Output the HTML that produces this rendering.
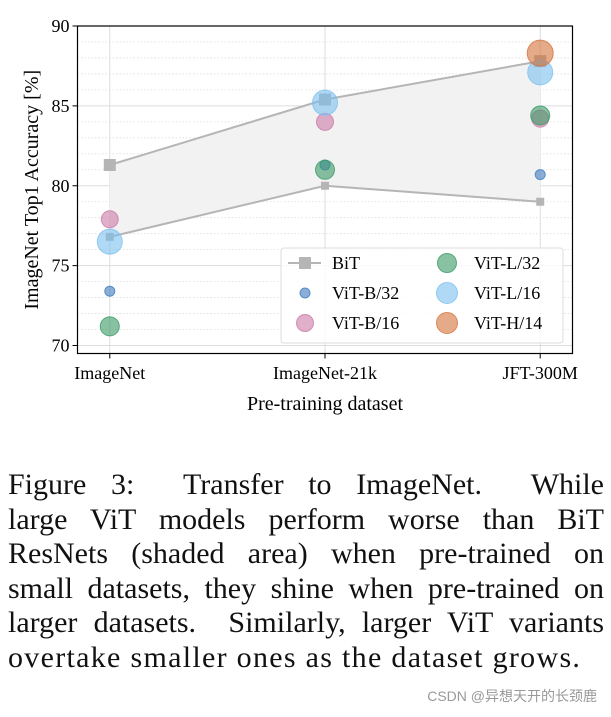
<!DOCTYPE html>
<html><head><meta charset="utf-8">
<style>
body{margin:0;background:#fff;width:611px;height:717px;overflow:hidden;position:relative;font-family:"Liberation Serif",serif}
#cap{position:absolute;left:8px;top:468px;width:596px;font-size:30px;line-height:34.6px;color:#111}
#cap div{text-align:justify;text-align-last:justify;white-space:nowrap;height:34.6px}
#cap div.last{text-align-last:left;letter-spacing:1.3px}
#wm{position:absolute;right:14px;top:686px;font-family:"Liberation Sans","Noto Sans CJK SC",sans-serif;font-size:14px;color:#999}
</style></head><body>
<svg id="chart" width="611" height="450" style="position:absolute;left:0;top:0" font-family="Liberation Serif, serif">
<g id="grid"></g><g id="marks"></g><g id="axes"></g><g id="legend"></g>
</svg>
<div id="cap">
<div>Figure 3:&nbsp; Transfer to ImageNet.&nbsp; While</div>
<div>large ViT models perform worse than BiT</div>
<div>ResNets (shaded area) when pre-trained on</div>
<div>small datasets, they shine when pre-trained on</div>
<div>larger datasets.&nbsp; Similarly, larger ViT variants</div>
<div class="last">overtake smaller ones as the dataset grows.</div>
</div>
<div id="wm">CSDN @异想天开的长颈鹿</div>
<script>
const categories=["ImageNet","ImageNet-21k","JFT-300M"];
const bitUpper=[81.3,85.4,87.8];
const bitLower=[76.8,80.0,79.0];
const vitB32=[73.4,81.3,80.7];
const vitB16=[77.9,84.0,84.2];
const vitL32=[71.2,81.0,84.4];
const vitL16=[76.5,85.2,87.1];
const vitH14=[null,null,88.3];
const yTicks=[70,75,80,85,90];
const NS="http://www.w3.org/2000/svg";
const L=77.5,R=572.5,T=26,B=353.5;
const X=i=>L+(i+0.15)/2.3*(R-L);
const Y=v=>B-(v-69.5)/20.5*(B-T);
function mk(p,tag,a){const e=document.createElementNS(NS,tag);for(const k in a)e.setAttribute(k,a[k]);p.appendChild(e);return e;}
const g=document.getElementById('grid'),m=document.getElementById('marks'),ax=document.getElementById('axes'),lg=document.getElementById('legend');
for(let v=70;v<=90;v++){const l=mk(g,'line',{x1:L,x2:R,y1:Y(v),y2:Y(v),stroke:'#ddd','stroke-width':v%5?0.8:1,'stroke-dasharray':v%5?'1.5,2':'none'});

}
categories.forEach((c,i)=>{const l=mk(g,'line',{x1:X(i),x2:X(i),y1:T,y2:B,stroke:'#ddd','stroke-width':1});

});
let pts=categories.map((c,i)=>X(i)+','+Y(bitUpper[i])).concat(categories.map((c,i)=>X(i)+','+Y(bitLower[i])).reverse());
const sh=mk(m,'polygon',{points:pts.join(' '),fill:'#f2f2f2'});


[bitUpper,bitLower].forEach((arr,k)=>{
const pl=mk(m,'polyline',{points:arr.map((v,i)=>X(i)+','+Y(v)).join(' '),fill:'none',stroke:'#b5b5b5','stroke-width':2});


arr.forEach((v,i)=>{const s=k?8:12;const r=mk(m,'rect',{x:X(i)-s/2,y:Y(v)-s/2,width:s,height:s,fill:'#b5b5b5'});

});});
const series=[["vit-b32",vitB32,5,'#3d7ac0'],["vit-b16",vitB16,8.5,'#cc79a7'],["vit-l32",vitL32,9.5,'#3a9a66'],["vit-l16",vitL16,12.5,'#7cc0f0'],["vit-h14",vitH14,13,'#d4733a']];
series.forEach(([n,arr,r,c])=>arr.forEach((v,i)=>{if(v==null)return;const e=mk(m,'circle',{cx:X(i),cy:Y(v),r:r,fill:c,'fill-opacity':0.6,stroke:c,'stroke-opacity':0.8,'stroke-width':1});

}));
const sp=mk(ax,'rect',{x:L,y:T,width:R-L,height:B-T,fill:'none',stroke:'#000','stroke-width':1.2});


yTicks.forEach(v=>{mk(ax,'line',{x1:L-5,x2:L,y1:Y(v),y2:Y(v),stroke:'#000'});
const t=mk(ax,'text',{x:L-8,y:Y(v)+6,'text-anchor':'end','font-size':18});t.textContent=v;

});
categories.forEach((c,i)=>{mk(ax,'line',{x1:X(i),x2:X(i),y1:B,y2:B+5,stroke:'#000'});
const t=mk(ax,'text',{x:X(i),y:379,'text-anchor':'middle','font-size':18});t.textContent=c;

});
const xt=mk(ax,'text',{x:(L+R)/2,y:410,'text-anchor':'middle','font-size':20});xt.textContent='Pre-training dataset';


const yt=mk(ax,'text',{x:0,y:0,'text-anchor':'middle','font-size':20,transform:`translate(38,${(T+B)/2}) rotate(-90)`});yt.textContent='ImageNet Top1 Accuracy [%]';


const lb=mk(lg,'rect',{x:281,y:248,width:282,height:95,rx:3,fill:'#fff','fill-opacity':0.85,stroke:'#ddd'});


mk(lg,'line',{x1:288,x2:321,y1:263,y2:263,stroke:'#b5b5b5','stroke-width':2});
mk(lg,'rect',{x:299,y:257,width:12,height:12,fill:'#b5b5b5'});
const entries=[[0,263,'BiT',null],[0,293,'ViT-B/32',series[0]],[0,323,'ViT-B/16',series[1]],[1,263,'ViT-L/32',series[2]],[1,293,'ViT-L/16',series[3]],[1,323,'ViT-H/14',series[4]]];
entries.forEach(([col,y,lab,s])=>{const cx=col?447:305;
if(s){mk(lg,'circle',{cx:cx,cy:y,r:Math.min(s[2],10.5),fill:s[3],'fill-opacity':0.6,stroke:s[3],'stroke-opacity':0.8});}
const t=mk(lg,'text',{x:col?474:332,y:y+6,'font-size':18});t.textContent=lab;

});
</script>
</body></html>
